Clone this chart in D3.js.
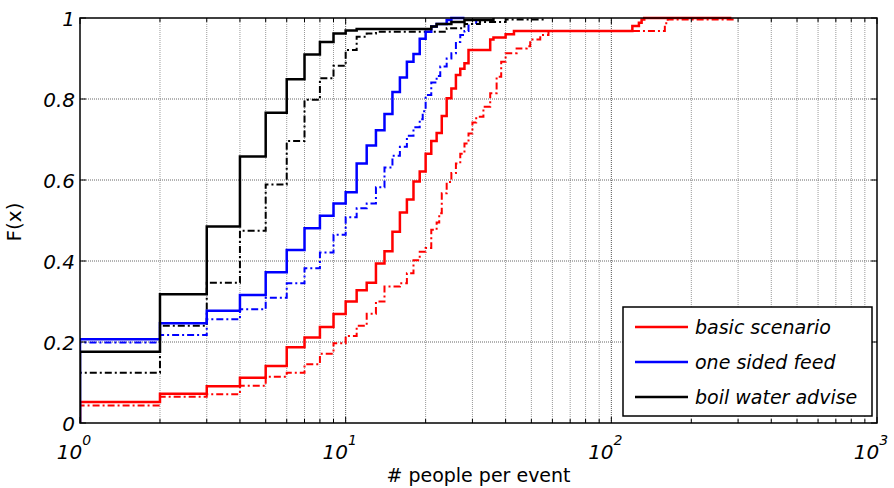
<!DOCTYPE html>
<html lang="en">
<head>
<meta charset="utf-8">
<title>CDF people per event</title>
<script src="https://d3js.org/d3.v7.min.js"></script>
<style>
  body { margin: 0; background: #fff; }
  svg { display: block; }
  text { font-family: "DejaVu Sans", sans-serif; fill: #000; }
</style>
</head>
<body>
<svg width="894" height="488"></svg>
<script>
// ECDF values (x = people per event, F = cumulative share)
const basicX = [1,2,3,4,5,6,7,8,9,10,11,12,13,14,15,16,17,18,19,20,21,22,23,24,25,26,27,28,29,35,36,40,43,120,127,130,133,283];
const basicF = [0.052,0.072,0.091,0.112,0.141,0.187,0.211,0.237,0.269,0.300,0.328,0.346,0.394,0.424,0.472,0.520,0.552,0.596,0.621,0.665,0.696,0.716,0.758,0.802,0.826,0.859,0.875,0.888,0.921,0.947,0.952,0.960,0.968,0.980,0.988,0.996,1.0,1.0];

const basicAltX = [1,2,3,4,5,6,7,8,9,10,11,12,13,14,16,17,18,19,20,21,22,22.5,23,24,25,26,27,28,29,30,31,33,35,37,38.5,40,44,48,49.5,54,58,159,163,290];
const basicAltF = [0.043,0.065,0.071,0.092,0.114,0.124,0.145,0.171,0.197,0.215,0.240,0.270,0.300,0.337,0.345,0.370,0.402,0.423,0.432,0.477,0.495,0.518,0.567,0.595,0.617,0.641,0.665,0.690,0.715,0.742,0.756,0.781,0.814,0.855,0.892,0.913,0.925,0.930,0.947,0.958,0.968,0.987,0.996,1.0];

const oneX = [1,2,3,4,5,6,7,8,9,10,11,12,13,14,15,16,17,18,19,20,21,22,24,25,28];
const oneF = [0.207,0.246,0.277,0.316,0.372,0.427,0.481,0.512,0.542,0.570,0.641,0.685,0.723,0.763,0.817,0.853,0.892,0.911,0.949,0.966,0.979,0.985,0.995,1.0,1.0];

const oneAltX = [1,2,3,4,5,6,7,8,9,10,11,12,13,14,15,16,17,18,19,19.5,20,21,22,22.7,24,25,26,27,28,29,31,32];
const oneAltF = [0.199,0.217,0.256,0.281,0.309,0.345,0.382,0.421,0.465,0.508,0.530,0.542,0.582,0.631,0.660,0.682,0.709,0.730,0.750,0.770,0.810,0.841,0.857,0.880,0.900,0.913,0.941,0.958,0.968,0.985,0.995,1.0];

const boilX = [1,2,3,4,5,6,7,8,9,10,11,21,22,25,28,36];
const boilF = [0.176,0.318,0.485,0.658,0.766,0.849,0.910,0.941,0.962,0.969,0.973,0.979,0.985,0.990,0.995,1.0];

const boilAltX = [1,2,3,4,5,6,7,8,9,10,11,12,13,24,28,32,40,56];
const boilAltF = [0.124,0.240,0.346,0.475,0.589,0.696,0.798,0.851,0.882,0.921,0.954,0.962,0.966,0.975,0.985,0.990,0.996,1.0];

const legendLabels = ["basic scenario", "one sided feed", "boil water advise"];
const yTicks = [0, 0.2, 0.4, 0.6, 0.8, 1];
const xDecades = [1, 10, 100, 1000];

const svg = d3.select("svg");
const plotL = 80, plotR = 877, plotT = 18, plotB = 423;

const x = d3.scaleLog().domain([1, 1000]).range([plotL, plotR]);
const y = d3.scaleLinear().domain([0, 1]).range([plotB, plotT]);

// minor positions 1..9 for each decade
const minorTicks = [];
[1, 10, 100].forEach(d => { for (let k = 1; k < 10; k++) minorTicks.push(d * k); });
minorTicks.push(1000);

// grid
const grid = svg.append("g");
grid.selectAll("line.gx").data(minorTicks.filter(v => v > 1 && v < 1000)).enter().append("line")
  .attr("x1", d => x(d)).attr("x2", d => x(d)).attr("y1", plotT).attr("y2", plotB)
  .attr("stroke", d => xDecades.includes(d) ? "#555" : "#999")
  .attr("stroke-width", 1).attr("stroke-dasharray", "1,1");
grid.selectAll("line.gy").data(yTicks.filter(v => v > 0 && v < 1)).enter().append("line")
  .attr("x1", plotL).attr("x2", plotR).attr("y1", d => y(d)).attr("y2", d => y(d))
  .attr("stroke", "#666").attr("stroke-width", 1).attr("stroke-dasharray", "1,1");

// curves
svg.append("clipPath").attr("id", "clip").append("rect")
  .attr("x", plotL).attr("y", plotT - 2).attr("width", plotR - plotL).attr("height", plotB - plotT + 2);

const line = d3.line().x(d => x(d[0])).y(d => y(d[1])).curve(d3.curveStepAfter);
const toPts = (xs, fs) => [[xs[0], 0]].concat(xs.map((v, i) => [v, fs[i]]));

const series = [
  { xs: basicAltX, fs: basicAltF, color: "#ff0000", dash: "7,3,2,3", w: 2 },
  { xs: oneAltX, fs: oneAltF, color: "#0000ff", dash: "7,3,2,3", w: 2 },
  { xs: boilAltX, fs: boilAltF, color: "#000000", dash: "7,3,2,3", w: 2 },
  { xs: basicX, fs: basicF, color: "#ff0000", dash: null, w: 2.5 },
  { xs: oneX, fs: oneF, color: "#0000ff", dash: null, w: 2.5 },
  { xs: boilX, fs: boilF, color: "#000000", dash: null, w: 2.5 }
];

const plot = svg.append("g").attr("clip-path", "url(#clip)");
series.forEach(s => {
  plot.append("path")
    .attr("d", line(toPts(s.xs, s.fs)))
    .attr("fill", "none")
    .attr("stroke", s.color)
    .attr("stroke-width", s.w)
    .attr("stroke-dasharray", s.dash);
});

// frame
svg.append("rect").attr("x", plotL).attr("y", plotT).attr("width", plotR - plotL).attr("height", plotB - plotT)
  .attr("fill", "none").attr("stroke", "#000").attr("stroke-width", 1.5);

// ticks (inside, both sides)
const ticks = svg.append("g").attr("stroke", "#000").attr("stroke-width", 1);
minorTicks.forEach(v => {
  const len = xDecades.includes(v) ? 6 : 4;
  ticks.append("line").attr("x1", x(v)).attr("x2", x(v)).attr("y1", plotB).attr("y2", plotB - len);
  ticks.append("line").attr("x1", x(v)).attr("x2", x(v)).attr("y1", plotT).attr("y2", plotT + len);
});
yTicks.forEach(v => {
  ticks.append("line").attr("x1", plotL).attr("x2", plotL + 6).attr("y1", y(v)).attr("y2", y(v));
  ticks.append("line").attr("x1", plotR).attr("x2", plotR - 6).attr("y1", y(v)).attr("y2", y(v));
});

// y tick labels
svg.selectAll("text.ytl").data(yTicks).enter().append("text")
  .attr("x", plotL - 5).attr("y", d => y(d) + 8)
  .attr("text-anchor", "end").attr("font-size", 20).attr("font-style", "italic")
  .text(d => d === 0 || d === 1 ? String(d) : d.toFixed(1));

// x tick labels 10^n
xDecades.forEach((v, i) => {
  const t = svg.append("text").attr("x", x(v) - 6).attr("y", 459)
    .attr("text-anchor", "middle").attr("font-size", 20).attr("font-style", "italic");
  t.append("tspan").text("10");
  t.append("tspan").attr("dy", -14).attr("font-size", 14).text(String(i));
});

// axis titles
svg.append("text").attr("x", (plotL + plotR) / 2).attr("y", 482)
  .attr("text-anchor", "middle").attr("font-size", 19).text("# people per event");
svg.append("text").attr("transform", "translate(21,222) rotate(-90)")
  .attr("text-anchor", "middle").attr("font-size", 20).text("F(x)");

// legend
const lg = svg.append("g");
lg.append("rect").attr("x", 623).attr("y", 307).attr("width", 249).attr("height", 109)
  .attr("fill", "#fff").attr("stroke", "#000").attr("stroke-width", 1.5);
const lgColors = ["#ff0000", "#0000ff", "#000000"];
legendLabels.forEach((lab, i) => {
  const cy = 327 + i * 35;
  lg.append("line").attr("x1", 635).attr("x2", 688).attr("y1", cy).attr("y2", cy)
    .attr("stroke", lgColors[i]).attr("stroke-width", 2.5);
  lg.append("text").attr("x", 695).attr("y", cy + 7)
    .attr("font-size", 19).attr("font-style", "italic").text(lab);
});
</script>
</body>
</html>
